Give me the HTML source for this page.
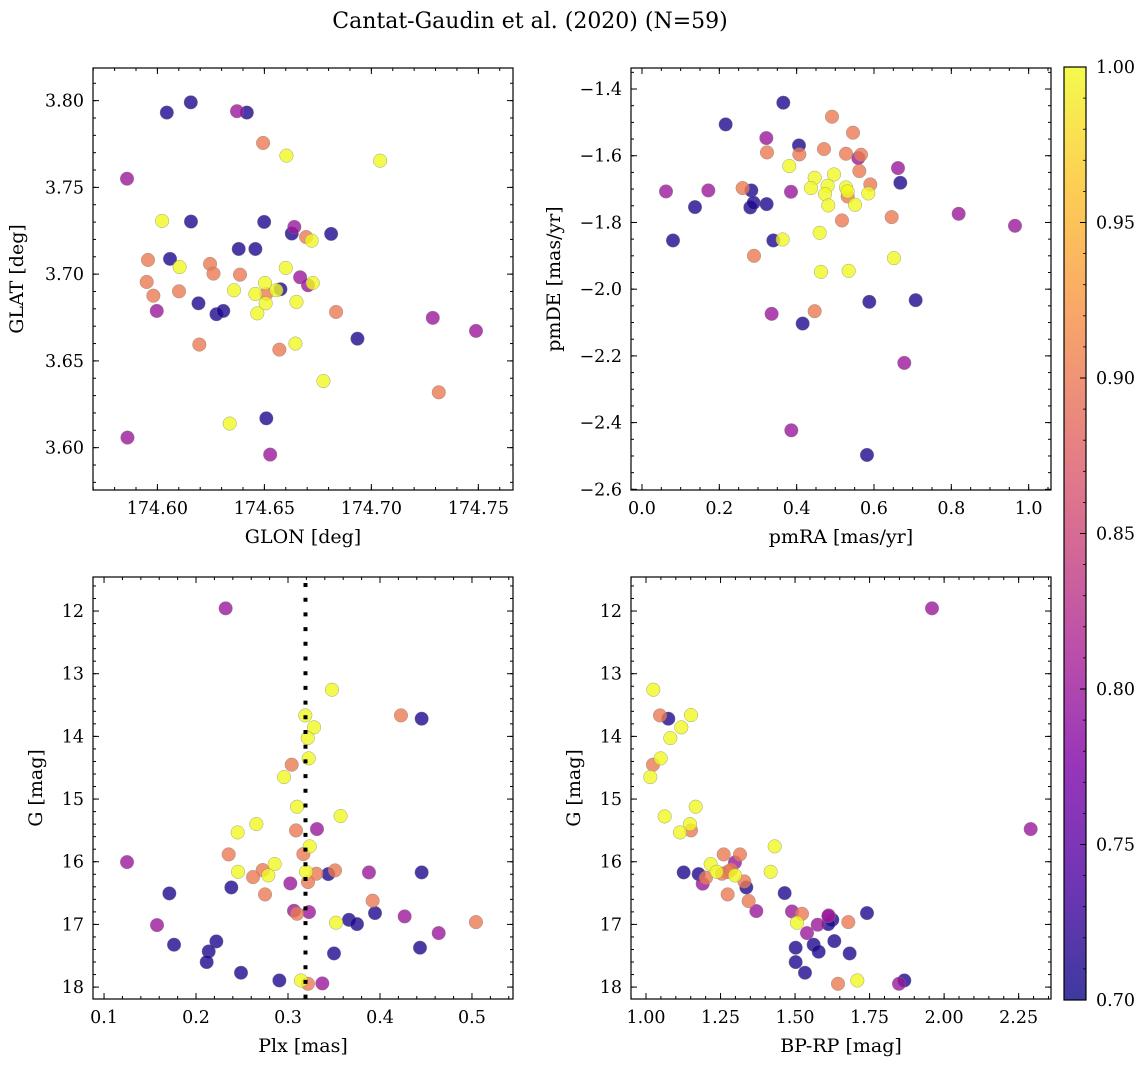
<!DOCTYPE html>
<html><head><meta charset="utf-8"><style>
html,body{margin:0;padding:0;background:#fff;}
svg text{font-family:"DejaVu Serif","Liberation Serif",serif;fill:#000;}
</style></head><body>
<svg id="fig" width="1148" height="1067" viewBox="0 0 1148 1067" xmlns="http://www.w3.org/2000/svg">
<text x="530" y="28" font-size="22" text-anchor="middle">Cantat-Gaudin et al. (2020) (N=59)</text>
</svg>
<script>
// ---- Panel 1: GLON vs GLAT ----
const p1Glon=[174.6044,174.6156,174.6418,174.6157,174.6499,174.6628,174.6812,174.6059,174.6380,174.6458,174.6192,174.6276,174.6308,174.6575,174.6935,174.6509,
174.5858,174.6372,174.6640,174.6667,174.6704,174.5997,174.7287,174.7489,174.5860,174.6527,
174.6494,174.5956,174.5950,174.5981,174.6101,174.6246,174.6262,174.6386,174.6695,174.6835,174.6196,174.6570,174.7315,174.6509,
174.6603,174.7041,174.6022,174.6104,174.6600,174.6721,174.6503,174.6358,174.6458,174.6556,174.6506,174.6467,174.6650,174.6726,174.6645,174.6776,174.6338];
const p1Glat=[3.7931,3.7990,3.7931,3.7303,3.7301,3.7234,3.7232,3.7088,3.7145,3.7145,3.6832,3.6769,3.6788,3.6913,3.6628,3.6169,
3.7550,3.7939,3.7272,3.6982,3.6936,3.6788,3.6748,3.6673,3.6058,3.5960,
3.7756,3.7082,3.6955,3.6876,3.6901,3.7059,3.7003,3.6997,3.7214,3.6782,3.6594,3.6565,3.6319,3.6886,
3.7683,3.7654,3.7307,3.7041,3.7036,3.7193,3.6949,3.6907,3.6886,3.6907,3.6832,3.6774,3.6840,3.6949,3.6600,3.6384,3.6139];
const p1Prob=[0.71,0.71,0.71,0.71,0.71,0.71,0.71,0.71,0.71,0.71,0.71,0.71,0.71,0.71,0.71,0.71,
0.80,0.80,0.80,0.80,0.80,0.80,0.80,0.80,0.80,0.80,
0.90,0.90,0.90,0.90,0.90,0.90,0.90,0.90,0.90,0.90,0.90,0.90,0.90,0.90,
1,1,1,1,1,1,1,1,1,1,1,1,1,1,1,1,1];
// ---- Panel 2: pmRA vs pmDE ----
const p2Pmra=[0.3655,0.2164,0.4060,0.2828,0.1371,0.2802,0.2888,0.3224,0.6681,0.0802,0.3397,0.5879,0.7078,0.4155,0.5819,
0.3216,0.0621,0.1716,0.3853,0.5595,0.6621,0.8190,0.9647,0.3353,0.6784,0.3862,
0.4914,0.5457,0.4707,0.5276,0.4069,0.3233,0.5664,0.5621,0.5905,0.2603,0.5319,0.6457,0.5172,0.2897,0.4466,
0.3810,0.4466,0.4966,0.4371,0.4802,0.5276,0.4733,0.5319,0.5853,0.4819,0.5509,0.4595,0.3638,0.6517,0.4629,0.5345];
const p2Pmde=[-1.441,-1.506,-1.569,-1.704,-1.754,-1.755,-1.741,-1.745,-1.681,-1.854,-1.854,-2.038,-2.033,-2.103,-2.497,
-1.547,-1.707,-1.704,-1.708,-1.607,-1.637,-1.774,-1.810,-2.074,-2.221,-2.423,
-1.483,-1.531,-1.580,-1.594,-1.596,-1.590,-1.597,-1.646,-1.686,-1.697,-1.722,-1.784,-1.794,-1.900,-2.066,
-1.631,-1.666,-1.656,-1.697,-1.690,-1.695,-1.715,-1.707,-1.713,-1.749,-1.747,-1.831,-1.851,-1.907,-1.948,-1.945];
const p2Prob=[0.71,0.71,0.71,0.71,0.71,0.71,0.71,0.71,0.71,0.71,0.71,0.71,0.71,0.71,0.71,
0.80,0.80,0.80,0.80,0.80,0.80,0.80,0.80,0.80,0.80,0.80,
0.90,0.90,0.90,0.90,0.90,0.90,0.90,0.90,0.90,0.90,0.90,0.90,0.90,0.90,0.90,
1,1,1,1,1,1,1,1,1,1,1,1,1,1,1,1];
// ---- Panel 3: Plx vs G ----
const p3Plx=[0.4453,0.1710,0.2384,0.3438,0.4453,0.3946,0.3663,0.3750,0.1761,0.2221,0.2138,0.2116,0.3500,0.4435,0.2489,0.2906,
0.2322,0.1250,0.3315,0.3025,0.3880,0.3065,0.3228,0.4268,0.1576,0.4638,0.3373,
0.4228,0.3040,0.3087,0.3167,0.2355,0.2725,0.2620,0.3308,0.3511,0.3217,0.2750,0.3920,0.3098,0.5043,0.3217,
0.3478,0.3188,0.3283,0.3214,0.3225,0.2957,0.3098,0.3572,0.2656,0.2453,0.3236,0.2855,0.2457,0.2786,0.3196,0.3522,0.3141];
const p3G=[13.718,16.505,16.410,16.197,16.170,16.819,16.926,16.995,17.324,17.271,17.431,17.601,17.463,17.372,17.771,17.894,
11.957,16.005,15.479,16.346,16.170,16.782,16.803,16.872,17.011,17.138,17.941,
13.665,14.452,15.500,15.878,15.883,16.133,16.245,16.191,16.138,16.324,16.521,16.622,16.830,16.963,17.947,
13.255,13.665,13.856,14.027,14.351,14.649,15.122,15.271,15.399,15.532,15.755,16.037,16.160,16.218,16.160,16.973,17.894];
const p3Prob=[0.71,0.71,0.71,0.71,0.71,0.71,0.71,0.71,0.71,0.71,0.71,0.71,0.71,0.71,0.71,0.71,
0.80,0.80,0.80,0.80,0.80,0.80,0.80,0.80,0.80,0.80,0.80,
0.90,0.90,0.90,0.90,0.90,0.90,0.90,0.90,0.90,0.90,0.90,0.90,0.90,0.90,0.90,
1,1,1,1,1,1,1,1,1,1,1,1,1,1,1,1,1];
const plxRef=0.319;
// ---- Panel 4: BP-RP vs G ----
const p4Color=[1.0749,1.1263,1.1767,1.3365,1.4651,1.7413,1.6250,1.6116,1.5020,1.5624,1.5792,1.6317,1.6831,1.5020,1.5333,1.8665,
1.9593,2.2903,1.2985,1.1901,1.3701,1.4897,1.5758,1.6127,1.5400,1.8486,1.6116,
1.0470,1.0235,1.1509,1.2605,1.3153,1.2728,1.2013,1.3298,1.2739,1.3444,1.5233,1.6787,1.6440,1.2549,1.2851,
1.0246,1.1509,1.1185,1.0816,1.0492,1.0145,1.1666,1.0626,1.1476,1.1140,1.4316,1.2169,1.2370,1.4182,1.2985,1.5065,1.7089];
const p4G=[13.718,16.170,16.197,16.410,16.500,16.819,16.926,16.995,17.372,17.324,17.436,17.266,17.463,17.601,17.771,17.894,
11.957,15.479,16.011,16.351,16.787,16.793,17.005,16.856,17.138,17.947,16.867,
13.665,14.452,15.500,15.883,15.883,16.165,16.255,16.314,16.521,16.628,16.830,16.963,17.947,16.191,16.128,
13.255,13.660,13.856,14.027,14.351,14.649,15.122,15.277,15.399,15.532,15.755,16.037,16.160,16.160,16.218,16.973,17.894];
const p4Prob=[0.71,0.71,0.71,0.71,0.71,0.71,0.71,0.71,0.71,0.71,0.71,0.71,0.71,0.71,0.71,0.71,
0.80,0.80,0.80,0.80,0.80,0.80,0.80,0.80,0.80,0.80,0.80,
0.90,0.90,0.90,0.90,0.90,0.90,0.90,0.90,0.90,0.90,0.90,0.90,0.90,0.90,0.90,
1,1,1,1,1,1,1,1,1,1,1,1,1,1,1,1,1];
const cbTicks=[0.70,0.75,0.80,0.85,0.90,0.95,1.00];

const TICK_FS=17.5, LABEL_FS=19;
const NS="http://www.w3.org/2000/svg";
const svg=document.getElementById('fig');
function mk(tag,attrs,parent){const e=document.createElementNS(NS,tag);for(const k in attrs)e.setAttribute(k,attrs[k]);(parent||svg).appendChild(e);return e;}
const stops=[[13,8,135],[75,3,161],[126,3,168],[170,35,149],[204,71,120],[229,107,93],[248,149,64],[253,195,40],[240,249,33]];
function plasma(t){t=Math.max(0,Math.min(1,t));const f=t*(stops.length-1);const i=Math.min(Math.floor(f),stops.length-2);const u=f-i;
const c=stops[i].map((v,k)=>Math.round(v+(stops[i+1][k]-v)*u));return 'rgb('+c.join(',')+')';}
function fmtMinus(s){return s.replace('-','\u2212');}
function rng(a,b,s){const r=[];const n=Math.round((b-a)/s);for(let i=0;i<=n;i++)r.push(+(a+i*s).toFixed(6));return r;}

function panel(o){
  const g=mk('g',{});
  
  
  const sx=v=>o.x0+(v-o.xlim[0])/(o.xlim[1]-o.xlim[0])*(o.x1-o.x0);
  const sy=v=>o.y0+(v-o.ylim[0])/(o.ylim[1]-o.ylim[0])*(o.y1-o.y0);
  const cp='clip-'+o.name;
  const cl=mk('clipPath',{id:cp},g);mk('rect',{x:o.x0,y:o.y0,width:o.x1-o.x0,height:o.y1-o.y0},cl);
  const pts=mk('g',{'clip-path':'url(#'+cp+')'},g);
  
  
  for(let i=0;i<o.xs.length;i++){
    const c=mk('circle',{cx:sx(o.xs[i]).toFixed(2),cy:sy(o.ys[i]).toFixed(2),r:6.8,fill:plasma((o.ps[i]-0.7)/0.3),'fill-opacity':0.8,stroke:'#808080','stroke-width':0.45,'stroke-opacity':0.8},pts);
    
    
  }
  if(o.vline!==undefined){
    const l=mk('line',{x1:sx(o.vline),x2:sx(o.vline),y1:o.y0+6,y2:o.y1,stroke:'#000','stroke-width':4,'stroke-dasharray':'4 10.7'},pts);
    
    
  }
  const fr=mk('rect',{x:o.x0,y:o.y0,width:o.x1-o.x0,height:o.y1-o.y0,fill:'none',stroke:'#000','stroke-width':1.2},g);
  
  
  const tk=mk('g',{stroke:'#000','stroke-width':1},g);
  const lo=Math.min(o.xlim[0],o.xlim[1]),hi=Math.max(o.xlim[0],o.xlim[1]);
  o.xMinor.forEach(v=>{if(v<lo||v>hi)return;const X=sx(v);mk('line',{x1:X,x2:X,y1:o.y1,y2:o.y1-3},tk);mk('line',{x1:X,x2:X,y1:o.y0,y2:o.y0+3},tk);});
  o.xMajor.forEach(v=>{const X=sx(v);mk('line',{x1:X,x2:X,y1:o.y1,y2:o.y1-6},tk);mk('line',{x1:X,x2:X,y1:o.y0,y2:o.y0+6},tk);
    const t=mk('text',{x:X,y:o.y1+24,'font-size':TICK_FS,'text-anchor':'middle'},g);t.textContent=fmtMinus(o.fx(v));
    });
  const ylo=Math.min(o.ylim[0],o.ylim[1]),yhi=Math.max(o.ylim[0],o.ylim[1]);
  o.yMinor.forEach(v=>{if(v<ylo||v>yhi)return;const Y=sy(v);mk('line',{x1:o.x0,x2:o.x0+3,y1:Y,y2:Y},tk);mk('line',{x1:o.x1,x2:o.x1-3,y1:Y,y2:Y},tk);});
  o.yMajor.forEach(v=>{const Y=sy(v);mk('line',{x1:o.x0,x2:o.x0+6,y1:Y,y2:Y},tk);mk('line',{x1:o.x1,x2:o.x1-6,y1:Y,y2:Y},tk);
    const t=mk('text',{x:o.x0-9,y:Y+6,'font-size':TICK_FS,'text-anchor':'end'},g);t.textContent=fmtMinus(o.fy(v));
    });
  const xl=mk('text',{x:(o.x0+o.x1)/2,y:o.y1+53,'font-size':LABEL_FS,'text-anchor':'middle'},g);xl.textContent=o.xlabel;
  
  const yx=o.ylx, yy=(o.y0+o.y1)/2;
  const yl=mk('text',{x:yx,y:yy,'font-size':LABEL_FS,'text-anchor':'middle',transform:'rotate(-90 '+yx+' '+yy+')'},g);yl.textContent=o.ylabel;
  
}

panel({name:'glon-glat-panel',x0:93,x1:513,y0:68,y1:490,xlim:[174.5699,174.7662],ylim:[3.8188,3.5756],
  xs:p1Glon,ys:p1Glat,ps:p1Prob,xMajor:rng(174.60,174.75,0.05),xMinor:rng(174.57,174.76,0.01),
  yMajor:rng(3.60,3.80,0.05),yMinor:rng(3.58,3.81,0.01),fx:v=>v.toFixed(2),fy:v=>v.toFixed(2),
  xlabel:'GLON [deg]',ylabel:'GLAT [deg]',ylx:23});
panel({name:'pm-panel',x0:631,x1:1051,y0:68,y1:490,xlim:[-0.0284,1.0578],ylim:[-1.337,-2.602],
  xs:p2Pmra,ys:p2Pmde,ps:p2Prob,xMajor:rng(0,1,0.2),xMinor:rng(0,1.05,0.05),
  yMajor:rng(-2.6,-1.4,0.2),yMinor:rng(-2.6,-1.35,0.05),fx:v=>v.toFixed(1),fy:v=>v.toFixed(1),
  xlabel:'pmRA [mas/yr]',ylabel:'pmDE [mas/yr]',ylx:560});
panel({name:'plx-g-panel',x0:93,x1:513,y0:577,y1:999,xlim:[0.088,0.5446],ylim:[11.457,18.19],
  xs:p3Plx,ys:p3G,ps:p3Prob,xMajor:rng(0.1,0.5,0.1),xMinor:rng(0.1,0.54,0.02),
  yMajor:rng(12,18,1),yMinor:rng(11.6,18.2,0.2),fx:v=>v.toFixed(1),fy:v=>v.toFixed(0),
  xlabel:'Plx [mas]',ylabel:'G [mag]',ylx:42,vline:plxRef});
panel({name:'cmd-panel',x0:631,x1:1051,y0:577,y1:999,xlim:[0.9497,2.3585],ylim:[11.457,18.19],
  xs:p4Color,ys:p4G,ps:p4Prob,xMajor:rng(1,2.25,0.25),xMinor:rng(0.95,2.35,0.05),
  yMajor:rng(12,18,1),yMinor:rng(11.6,18.2,0.2),fx:v=>v.toFixed(2),fy:v=>v.toFixed(0),
  xlabel:'BP-RP [mag]',ylabel:'G [mag]',ylx:580});

(function(){
  const x0=1064,x1=1086,y0=67,y1=1000;
  const defs=mk('defs',{});
  const lg=mk('linearGradient',{id:'cbg',x1:0,y1:1,x2:0,y2:0},defs);
  for(let i=0;i<=16;i++){mk('stop',{offset:(i/16),'stop-color':plasma(i/16),'stop-opacity':0.8},lg);}
  const r=mk('rect',{x:x0,y:y0,width:x1-x0,height:y1-y0,fill:'url(#cbg)',stroke:'#000','stroke-width':1.2});
  
  
  const sy=v=>y1-(v-0.7)/0.3*(y1-y0);
  cbTicks.forEach(v=>{const Y=sy(v);mk('line',{x1:x1,x2:x1-6,y1:Y,y2:Y,stroke:'#000','stroke-width':1});
    const t=mk('text',{x:x1+10,y:Y+6,'font-size':TICK_FS});t.textContent=v.toFixed(2);
    });
  rng(0.71,0.99,0.01).forEach(v=>{const Y=sy(v);mk('line',{x1:x1,x2:x1-3,y1:Y,y2:Y,stroke:'#000','stroke-width':0.8});});
})();
</script>
</body></html>
